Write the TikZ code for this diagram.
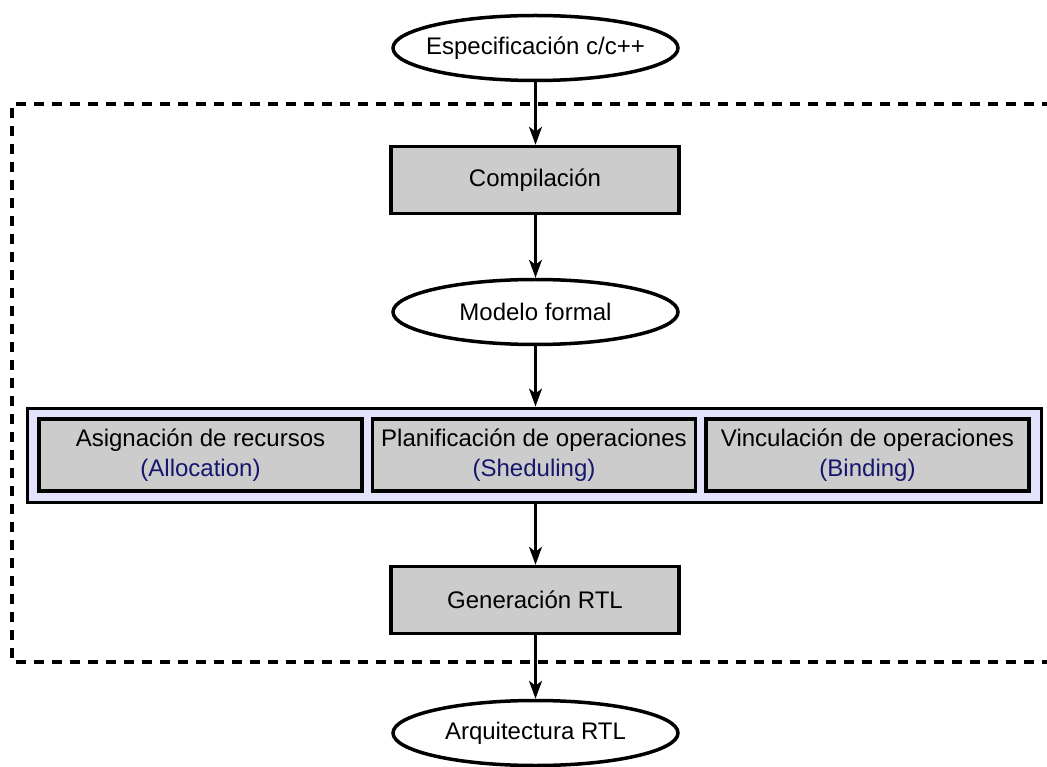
\documentclass[tikz,border=0pt]{standalone}
\usepackage{fontspec}
\setmainfont{Liberation Sans}
\usetikzlibrary{shapes.geometric,arrows.meta}
\definecolor{boxgray}{RGB}{204,204,204}
\definecolor{bandfill}{RGB}{226,226,252}
\definecolor{engblue}{RGB}{22,22,110}
\begin{document}
\begin{tikzpicture}[x=1pt,y=-1pt,
  every node/.style={font=\fontsize{24}{29.5}\selectfont, inner sep=0pt},
  io/.style={ellipse, draw, line width=3.5pt, fill=white, inner xsep=-14pt, minimum width=285pt, minimum height=65pt},
  stage/.style={rectangle, draw, line width=3.5pt, fill=boxgray, minimum width=288pt, minimum height=67pt},
  task/.style={rectangle, draw, line width=3.5pt, fill=boxgray, minimum width=323pt, minimum height=72pt, align=center},
  band/.style={rectangle, draw, line width=3pt, fill=bandfill, minimum width=1014pt, minimum height=94pt},
  flow/.style={line width=2.5pt, -{Stealth[length=18pt,width=13pt,inset=5pt]}},
  region/.style={line width=3.5pt, dash pattern=on 10pt off 8pt}
]
\useasboundingbox (0,0) rectangle (1047,767);

% synthesis region boundary (open on the right)
\draw[region] (1070,104) -- (12,104) -- (12,662) -- (1070,662);

\node[io] (spec) at (535.5,48) {Especificación c/c++};
\node[stage] (comp) at (535,180) {Compilación};
\node[io] (model) at (535.5,312) {Modelo formal};

\node[band] (core) at (534,455) {};
\node[task] (alloc) at (200.5,455) {Asignación de recursos\\\textcolor{engblue}{(Allocation)}};
\node[task] (sched) at (534,455) {Planificación de operaciones\\\textcolor{engblue}{(Sheduling)}};
\node[task] (bind) at (867.5,455) {Vinculación de operaciones\\\textcolor{engblue}{(Binding)}};

\node[stage] (rtl) at (535,600) {Generación RTL};
\node[io] (arch) at (535.5,733) {Arquitectura RTL};

\draw[flow] (spec.south) -- (comp.north -| spec.south);
\draw[flow] (comp.south -| spec.south) -- (model.north);
\draw[flow] (model.south) -- (core.north -| model.south);
\draw[flow] (core.south -| model.south) -- (rtl.north -| model.south);
\draw[flow] (rtl.south -| arch.north) -- (arch.north);
\end{tikzpicture}
\end{document}
